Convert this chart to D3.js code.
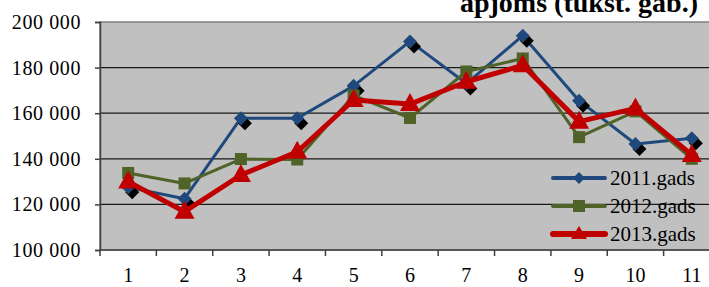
<!DOCTYPE html>
<html>
<head>
<meta charset="utf-8">
<script src="https://cdn.jsdelivr.net/npm/d3@7"></script>
<style>
  body { margin: 0; background: #fff; }
  svg { display: block; }
  svg text { font-family: "Times New Roman", "Liberation Serif", Tinos, serif; fill: #000; }
</style>
</head>
<body>
<svg id="chart" width="709" height="287"></svg>
<script>
var months = ["1", "2", "3", "4", "5", "6", "7", "8", "9", "10", "11"];
var yTicks = [100000, 120000, 140000, 160000, 180000, 200000];
var values2011 = [127500, 122500, 157800, 157800, 172000, 191500, 173000, 194000, 165500, 146500, 149000];
var values2012 = [133800, 129200, 139900, 139700, 167800, 157900, 178300, 184000, 149500, 160800, 140000];
var values2013 = [130000, 116800, 132900, 143100, 165800, 164000, 173800, 181000, 156300, 162100, 141700];
var seriesNames = ["2011.gads", "2012.gads", "2013.gads"];
var titleText = "apjoms (tukst. gab.)";

var series = [
  { name: seriesNames[0], values: values2011, color: "#1F497D", width: 3, marker: "diamond" },
  { name: seriesNames[1], values: values2012, color: "#4F6228", width: 3, marker: "square" },
  { name: seriesNames[2], values: values2013, color: "#C00000", width: 5, marker: "triangle" }
];

var plotLeft = 100, plotTop = 22, plotBottom = 250;
var plotW = 620;

var svg = d3.select("#chart");

var x = d3.scaleBand().domain(months).range([plotLeft, plotLeft + plotW]);
var y = d3.scaleLinear().domain([100000, 200000]).range([plotBottom, plotTop]);

// plot background
svg.append("rect")
  .attr("x", plotLeft).attr("y", plotTop)
  .attr("width", plotW).attr("height", plotBottom - plotTop)
  .attr("fill", "#C0C0C0")
  .attr("stroke", "#808080").attr("stroke-width", 1.5);

// gridlines
svg.append("g").selectAll("line")
  .data(yTicks.slice(1, -1))
  .enter().append("line")
  .attr("x1", plotLeft).attr("x2", plotLeft + plotW)
  .attr("y1", function (d) { return y(d); })
  .attr("y2", function (d) { return y(d); })
  .attr("stroke", "#1a1a1a").attr("stroke-width", 1.2);

var fmt = function (d) { return d3.format(",")(d).replace(",", " "); };

// y axis
var yAxis = d3.axisLeft(y).tickValues(yTicks).tickSize(5).tickPadding(14).tickFormat(fmt);
var gy = svg.append("g").attr("transform", "translate(" + plotLeft + ",0)").call(yAxis)
  .attr("font-family", null).attr("font-size", null);
gy.select(".domain").attr("stroke", "#404040").attr("stroke-width", 1.5);
gy.selectAll(".tick line").attr("stroke", "#404040").attr("stroke-width", 1.5);
gy.selectAll("text").style("font-size", "20px").style("letter-spacing", "0.6px");

// x axis (ticks on band boundaries)
var gx = svg.append("g").attr("transform", "translate(0," + plotBottom + ")");
gx.append("line").attr("x1", plotLeft).attr("x2", plotLeft + plotW)
  .attr("stroke", "#404040").attr("stroke-width", 1.5);
gx.selectAll("line.tk")
  .data(months)
  .enter().append("line").attr("class", "tk")
  .attr("x1", function (d) { return x(d); })
  .attr("x2", function (d) { return x(d); })
  .attr("y1", 0).attr("y2", 6)
  .attr("stroke", "#404040").attr("stroke-width", 1.5);
gx.selectAll("text")
  .data(months)
  .enter().append("text")
  .attr("x", function (d) { return x(d) + x.bandwidth() / 2; })
  .attr("y", 32)
  .attr("text-anchor", "middle")
  .style("font-size", "20px")
  .text(function (d) { return d; });

function cx(d, i) { return x(months[i]) + x.bandwidth() / 2; }

function drawMarker(g, type, px, py, color) {
  if (type === "diamond") {
    var s = 7;
    var path = "M0," + (-s) + "L" + s + ",0L0," + s + "L" + (-s) + ",0Z";
    g.append("path").attr("d", path).attr("fill", "#000")
      .attr("transform", "translate(" + (px + 4) + "," + (py + 5) + ")");
    g.append("path").attr("d", path).attr("fill", color)
      .attr("transform", "translate(" + px + "," + py + ")");
  } else if (type === "square") {
    g.append("rect").attr("x", px - 6).attr("y", py - 6)
      .attr("width", 12).attr("height", 12).attr("fill", color);
  } else {
    var path2 = "M0,-11L10,7L-10,7Z";
    g.append("path").attr("d", path2).attr("fill", color)
      .attr("transform", "translate(" + px + "," + py + ")");
  }
}

var marks = svg.append("g");
series.forEach(function (s) {
  var line = d3.line()
    .x(function (d, i) { return cx(d, i); })
    .y(function (d) { return y(d); });
  var g = marks.append("g");
  g.append("path").datum(s.values)
    .attr("d", line)
    .attr("fill", "none")
    .attr("stroke", s.color)
    .attr("stroke-width", s.width)
    .attr("stroke-linejoin", "round");
  s.values.forEach(function (v, i) {
    drawMarker(g, s.marker, cx(v, i), y(v), s.color);
  });
});

// legend
var legendY = [178, 206, 234];
var lg = svg.append("g");
series.forEach(function (s, i) {
  var ly = legendY[i];
  lg.append("line").attr("x1", 553).attr("x2", 605)
    .attr("y1", ly).attr("y2", ly)
    .attr("stroke", s.color).attr("stroke-width", s.width + 1)
    .attr("stroke-linecap", "round");
  if (s.marker === "diamond") {
    lg.append("path").attr("d", "M0,-6L6,0L0,6L-6,0Z").attr("fill", s.color)
      .attr("transform", "translate(579," + ly + ")");
  } else if (s.marker === "square") {
    lg.append("rect").attr("x", 573).attr("y", ly - 6).attr("width", 12).attr("height", 12)
      .attr("fill", s.color);
  } else {
    lg.append("path").attr("d", "M0,-8L8,5L-8,5Z").attr("fill", s.color)
      .attr("transform", "translate(579," + ly + ")");
  }
  lg.append("text").attr("x", 610).attr("y", ly + 7)
    .style("font-size", "21px").text(s.name);
});

// title (partially cut off at top)
svg.append("text")
  .attr("x", 698).attr("y", 12)
  .attr("text-anchor", "end")
  .style("font-size", "28px").style("font-weight", "bold")
  .text(titleText);
</script>
</body>
</html>
